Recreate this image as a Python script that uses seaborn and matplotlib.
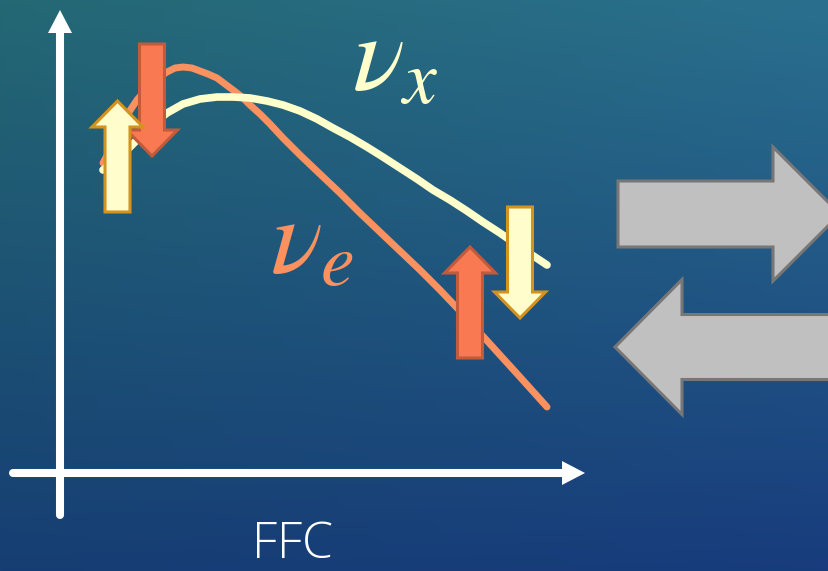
import numpy as np
import matplotlib
matplotlib.use("Agg")
import matplotlib.pyplot as plt
from matplotlib.patches import Polygon
import seaborn as sns

# ---- data (pixel coordinates) ----
nu_x_x = [103, 115, 128, 140, 152, 167, 183, 200, 217, 233, 250, 267, 283, 300, 317, 333, 350, 367,
          383, 400, 417, 433, 450, 467, 483, 500, 520, 547]
nu_x_y = [170, 160, 149, 137, 125, 113, 104, 99, 97, 97, 98, 101, 105, 111, 119, 128, 137, 147,
          157, 168, 179, 190, 200, 211, 222, 233, 247, 265]
nu_e_x = [103, 110, 118, 127, 137, 148, 158, 167, 175, 183, 192, 200, 208, 217, 225, 233, 242, 250,
          260, 270, 283, 300, 320, 340, 360, 380, 400, 420, 440, 460, 480, 500, 520, 547]
nu_e_y = [163, 150, 133, 115, 100, 87, 78, 72, 68, 67, 68, 71, 74, 78, 84, 90, 97, 105,
          114, 124, 138, 155, 174, 193, 213, 232, 251, 270, 290, 311, 333, 355, 377, 407]
labels = [r"$\nu_x$", r"$\nu_e$"]
xlabel = "FFC"

# flux-change arrows: (center x, tail y, tip y, kind)
flux_arrows = [(117.5, 212, 101, "x"), (152, 44, 156, "e"), (470, 358, 247, "e"), (520, 207, 318, "x")]

sns.set_theme(style="white")
plt.rcParams["mathtext.fontset"] = "stix"

W, H = 829, 571
fig = plt.figure(figsize=(W / 100, H / 100), dpi=100)
ax = fig.add_axes([0, 0, 1, 1])
ax.set_xlim(0, W)
ax.set_ylim(H, 0)
ax.axis("off")

# background gradient
tl = np.array([36, 104, 116]) / 255
tr = np.array([42, 112, 142]) / 255
bl = np.array([22, 62, 115]) / 255
br = np.array([24, 60, 125]) / 255
u = np.linspace(0, 1, 200)[None, :, None]
v = np.linspace(0, 1, 140)[:, None, None]
img = (1 - v) * ((1 - u) * tl + u * tr) + v * ((1 - u) * bl + u * br)
ax.imshow(img, extent=[0, W, H, 0], aspect="auto", zorder=0, interpolation="bilinear")

# curves
cream = "#FFFFCC"
orange = "#FA915F"
sns.lineplot(x=nu_e_x, y=nu_e_y, sort=False, estimator=None, ax=ax, color=orange,
             linewidth=5, zorder=3)
sns.lineplot(x=nu_x_x, y=nu_x_y, sort=False, estimator=None, ax=ax, color=cream,
             linewidth=5.5, zorder=3)
for ln in ax.lines:
    ln.set_solid_capstyle("round")
    ln.set_solid_joinstyle("round")


def vert_arrow(xc, tail, tip, shw, hhw, hl, fc, ec, lw, z):
    d = 1 if tip > tail else -1
    hb = tip - d * hl
    pts = [(xc - shw, tail), (xc - shw, hb), (xc - hhw, hb), (xc, tip),
           (xc + hhw, hb), (xc + shw, hb), (xc + shw, tail)]
    ax.add_patch(Polygon(pts, closed=True, fc=fc, ec=ec, lw=lw, zorder=z, joinstyle="miter"))


def horiz_arrow(yc, tail, tip, shw, hhw, hl, fc, ec, lw, z):
    d = 1 if tip > tail else -1
    hb = tip - d * hl
    pts = [(tail, yc - shw), (hb, yc - shw), (hb, yc - hhw), (tip, yc),
           (hb, yc + hhw), (hb, yc + shw), (tail, yc + shw)]
    ax.add_patch(Polygon(pts, closed=True, fc=fc, ec=ec, lw=lw, zorder=z, joinstyle="miter"))


styles = {"x": ("#FFFDCB", "#D4921E"), "e": ("#F97A52", "#C25A3C")}
for i, (xc, tail, tip, kind) in enumerate(flux_arrows):
    fc, ec = styles[kind]
    vert_arrow(xc, tail, tip, 12.5, 25.5, 26, fc, ec, 2.2, 5 + (1 if i == 0 else 0))

# gray exchange arrows
horiz_arrow(214, 618, 840, 33, 67, 67, "#C0C0C0", "#777777", 2.2, 4)
horiz_arrow(347, 880, 615, 32.5, 67.5, 67, "#C0C0C0", "#777777", 2.2, 4)

# axes (white arrows)
ax.plot([60, 60], [515, 30], color="white", lw=5.8, solid_capstyle="round", zorder=2)
ax.add_patch(Polygon([(48, 33), (72, 33), (60, 10)], closed=True, fc="white", ec="none", zorder=2))
ax.plot([13, 565], [473, 473], color="white", lw=5.8, solid_capstyle="round", zorder=2)
ax.add_patch(Polygon([(562, 461), (562, 485), (585, 473)], closed=True, fc="white", ec="none", zorder=2))

# labels
ax.text(352, 90, labels[0], color=cream, fontsize=78, ha="left", va="baseline", zorder=6)
ax.text(270, 272, labels[1], color=orange, fontsize=78, ha="left", va="baseline", zorder=6)
ax.text(252, 570, xlabel, color="white", fontsize=36, family="Open Sans", fontweight="light",
        ha="left", va="bottom", zorder=6)

fig.savefig("out.png", dpi=100)
